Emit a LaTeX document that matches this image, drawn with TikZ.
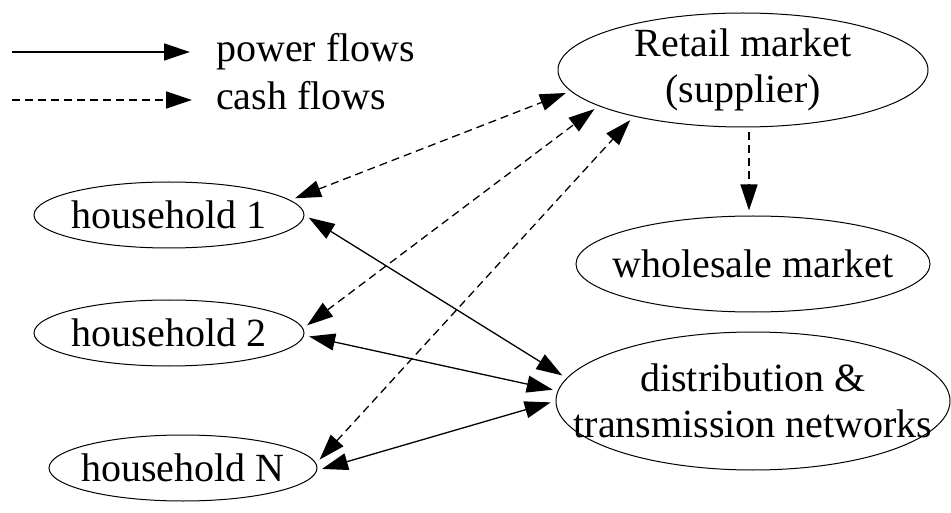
\documentclass[tikz,border=0pt]{standalone}
\usepackage{fontspec}
\setmainfont{Liberation Serif}
\usetikzlibrary{shapes.geometric,arrows.meta}
\begin{document}
\begin{tikzpicture}[x=1pt,y=-1pt,
  font=\fontsize{40}{46}\selectfont,
  oval/.style={draw, ellipse, line width=1pt, inner sep=0pt},
  txt/.style={align=center, inner sep=0pt},
  con/.style={line width=1.3pt, shorten >=5pt, shorten <=5pt},
  cash/.style={con, dash pattern=on 8pt off 5pt},
  one/.style={-{Triangle[length=26pt,width=17pt]}},
  both/.style={{Triangle[length=26pt,width=17pt]}-{Triangle[length=26pt,width=17pt]}}
]
\useasboundingbox (0,0) rectangle (951,513);
% nodes
\node[oval, minimum width=370pt, minimum height=114pt, label={[txt,name=rt]center:Retail market\\(supplier)}] (r) at (743,70) {};
\node[oval, minimum width=354pt, minimum height=96pt, label={[txt,name=wt]center:wholesale market}] (w) at (753,264) {};
\node[oval, minimum width=394pt, minimum height=138pt, label={[txt,name=dt]center:distribution \&\\transmission networks}] (d) at (753,401) {};
\node[oval, minimum width=270pt, minimum height=66pt, label={[txt,name=h1t]center:household 1}] (h1) at (169,215) {};
\node[oval, minimum width=270pt, minimum height=66pt, label={[txt,name=h2t]center:household 2}] (h2) at (169,333) {};
\node[oval, minimum width=268pt, minimum height=66pt, label={[txt,name=hnt]center:household N}] (hn) at (183,468) {};
% legend
\coordinate (p0) at (12,52);
\coordinate (p1) at (190,52);
\coordinate (c0) at (12,100);
\coordinate (c1) at (192,100);
\draw[line width=1.3pt, one] (p0) -- (p1);
\draw[line width=1.3pt, dash pattern=on 8pt off 5pt, one] (c0) -- (c1);
\node[anchor=base west, inner sep=0pt] (pl) at (216,62) {power flows};
\node[anchor=base west, inner sep=0pt] (cl) at (216,110) {cash flows};
% cash flows
\draw[cash, both] (h1.7) -- (r.187.5);
\draw[cash, both] (h2.2.5) -- (r.194.5);
\draw[cash, both] (hn.2) -- (r.203);
\draw[cash, one] (r.south -| 749,0) -- (w.north -| 749,0);
% power flows
\draw[con, both] (h1.0.5) -- (d.173);
\draw[con, both] (h2.-1) -- (d.177);
\draw[con, both] (hn.-1) -- (d.180.5);
\end{tikzpicture}
\end{document}
